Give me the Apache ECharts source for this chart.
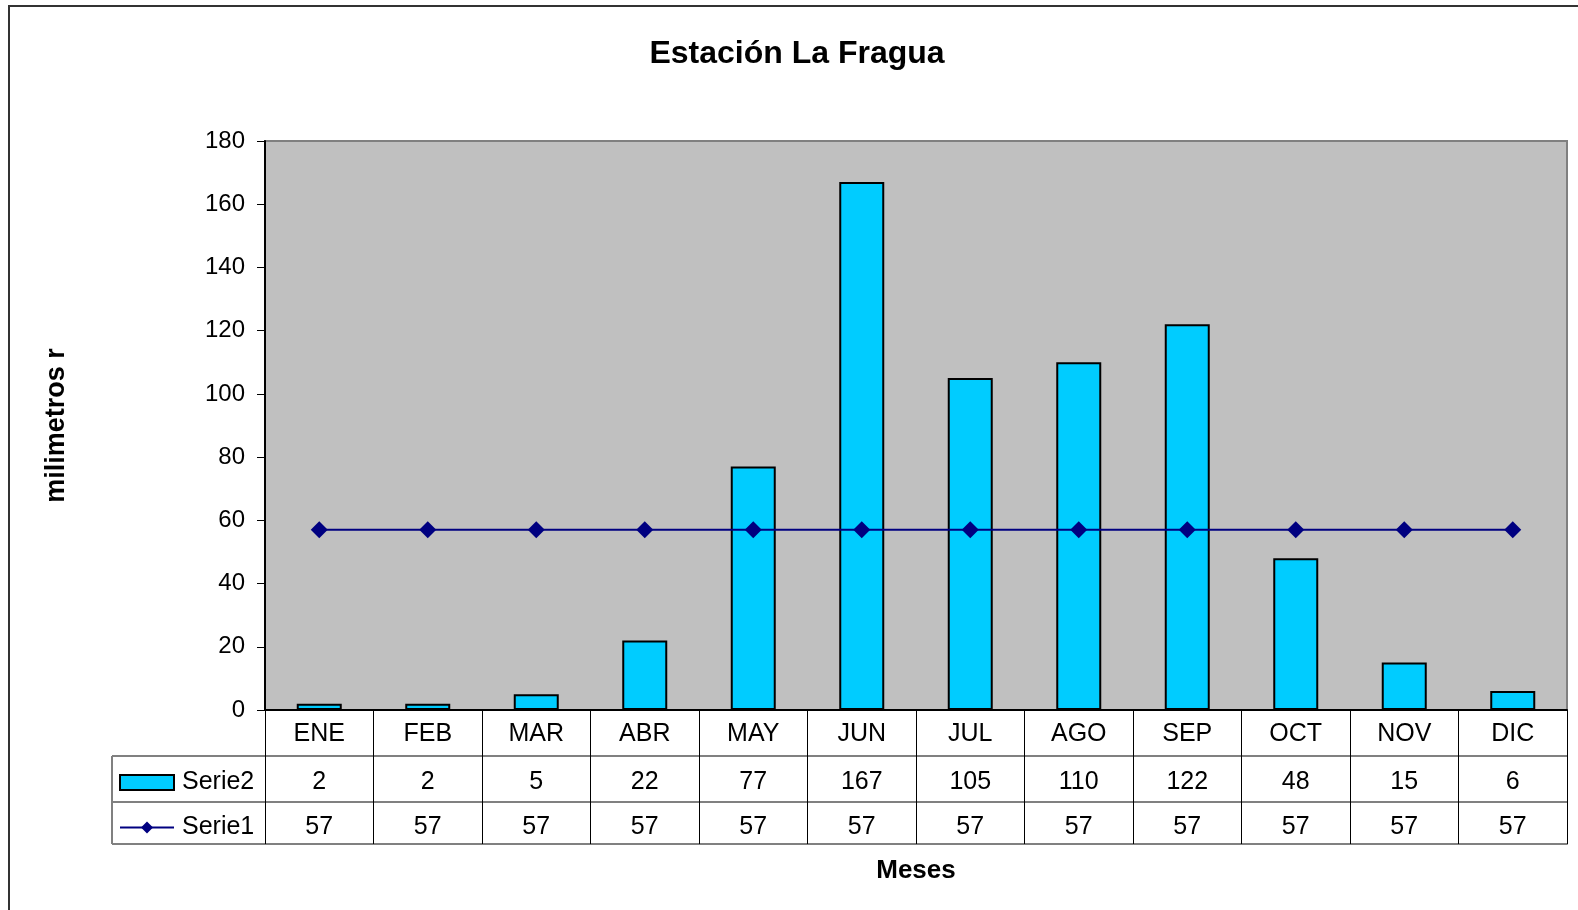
<!DOCTYPE html>
<html>
<head>
<meta charset="utf-8">
<script src="https://cdn.jsdelivr.net/npm/echarts@6/dist/echarts.min.js"></script>
<style>
html,body{margin:0;padding:0;background:#fff;}
#chart{width:1578px;height:910px;}
</style>
</head>
<body>
<div id="chart"></div>
<script>
var months = ['ENE','FEB','MAR','ABR','MAY','JUN','JUL','AGO','SEP','OCT','NOV','DIC'];
var serie2 = [2, 2, 5, 22, 77, 167, 105, 110, 122, 48, 15, 6];
var serie1 = [57, 57, 57, 57, 57, 57, 57, 57, 57, 57, 57, 57];
var yTicks = {min: 0, max: 180, interval: 20};

var FONT = '"Liberation Sans", Arial, sans-serif';
var chart = echarts.init(document.getElementById('chart'), null, {renderer: 'canvas'});

var GL = 265, GR = 11, GT = 141, GB = 200; // plot: x 265..1567, y 141..710
var zeroY = 910 - GB;
var rowLines = [zeroY + 46, zeroY + 92, zeroY + 134];

var option = {
  animation: false,
  backgroundColor: '#fff',
  textStyle: {fontFamily: FONT},
  title: {
    text: 'Estación La Fragua',
    left: 797,
    textAlign: 'center',
    top: 38,
    padding: 0,
    textStyle: {fontFamily: FONT, fontSize: 32, fontWeight: 'bold', color: '#000'}
  },
  legend: [
    {
      data: [{name: 'Serie2', icon: 'rect'}],
      left: 119, top: zeroY + 60, orient: 'vertical', padding: 0,
      itemWidth: 54, itemHeight: 15, itemGap: 7,
      textStyle: {fontFamily: FONT, fontSize: 25, color: '#000', padding: [0, 0, 0, 3]}
    },
    {
      data: ['Serie1'],
      left: 119, top: zeroY + 105, orient: 'vertical', padding: 0,
      itemWidth: 54, itemHeight: 15, itemGap: 7,
      textStyle: {fontFamily: FONT, fontSize: 25, color: '#000', padding: [0, 0, 0, 3]}
    }
  ],
  grid: {
    left: GL, right: GR, top: GT, bottom: GB,
    show: true, backgroundColor: '#C0C0C0', borderColor: '#808080', borderWidth: 2,
    containLabel: false
  },
  xAxis: [
    {
      type: 'category', data: months, position: 'bottom', offset: 0,
      axisLine: {lineStyle: {color: '#000', width: 2}},
      axisTick: {show: true, interval: 0, length: 134, lineStyle: {color: '#000', width: 1}},
      axisLabel: {interval: 0, margin: 12, fontFamily: FONT, fontSize: 25, color: '#000'},
      splitLine: {show: false}
    },
    {
      type: 'category', data: serie2.map(String), position: 'bottom', offset: 46,
      axisLine: {lineStyle: {color: '#808080', width: 2}},
      axisTick: {show: false},
      axisLabel: {interval: 0, margin: 14, fontFamily: FONT, fontSize: 25, color: '#000'}
    },
    {
      type: 'category', data: serie1.map(String), position: 'bottom', offset: 92,
      axisLine: {lineStyle: {color: '#808080', width: 2}},
      axisTick: {show: false},
      axisLabel: {interval: 0, margin: 13, fontFamily: FONT, fontSize: 25, color: '#000'}
    },
    {
      type: 'category', data: months, position: 'bottom', offset: 134,
      axisLine: {lineStyle: {color: '#808080', width: 2}},
      axisTick: {show: false},
      axisLabel: {show: false},
      name: 'Meses', nameLocation: 'middle', nameGap: 14,
      nameTextStyle: {fontFamily: FONT, fontSize: 26, fontWeight: 'bold', color: '#000'}
    }
  ],
  yAxis: {
    type: 'value', min: yTicks.min, max: yTicks.max, interval: yTicks.interval,
    axisLine: {show: true, lineStyle: {color: '#000', width: 2}},
    axisTick: {show: true, length: 8, lineStyle: {color: '#000', width: 1}},
    axisLabel: {margin: 20, fontFamily: FONT, fontSize: 24, color: '#000', padding: [4, 0, 0, 0]},
    splitLine: {show: false},
    name: 'milimetros r', nameLocation: 'middle', nameGap: 195, nameRotate: 90,
    nameTextStyle: {fontFamily: FONT, fontSize: 27, fontWeight: 'bold', color: '#000'}
  },
  series: [
    {
      name: 'Serie2', type: 'bar', data: serie2, barWidth: 45, xAxisIndex: 0,
      itemStyle: {color: '#00CCFF', borderColor: '#000', borderWidth: 2}
    },
    {
      name: 'Serie1', type: 'line', data: serie1, xAxisIndex: 0, z: 5,
      symbol: 'diamond', symbolSize: 17, showSymbol: true,
      lineStyle: {color: '#000080', width: 2},
      itemStyle: {color: '#000080'}
    }
  ],
  graphic: [
    {type: 'rect', shape: {x: 9, y: 6, width: 1700, height: 1000}, style: {fill: 'none', stroke: '#333', lineWidth: 2}, z: -10},
    {type: 'line', shape: {x1: 112, y1: rowLines[0], x2: GL, y2: rowLines[0]}, style: {stroke: '#808080', lineWidth: 2}},
    {type: 'line', shape: {x1: 112, y1: rowLines[1], x2: GL, y2: rowLines[1]}, style: {stroke: '#808080', lineWidth: 2}},
    {type: 'line', shape: {x1: 112, y1: rowLines[2], x2: GL, y2: rowLines[2]}, style: {stroke: '#808080', lineWidth: 2}},
    {type: 'line', shape: {x1: 112, y1: rowLines[0], x2: 112, y2: rowLines[2]}, style: {stroke: '#808080', lineWidth: 2}}
  ]
};
chart.setOption(option);
</script>
</body>
</html>
